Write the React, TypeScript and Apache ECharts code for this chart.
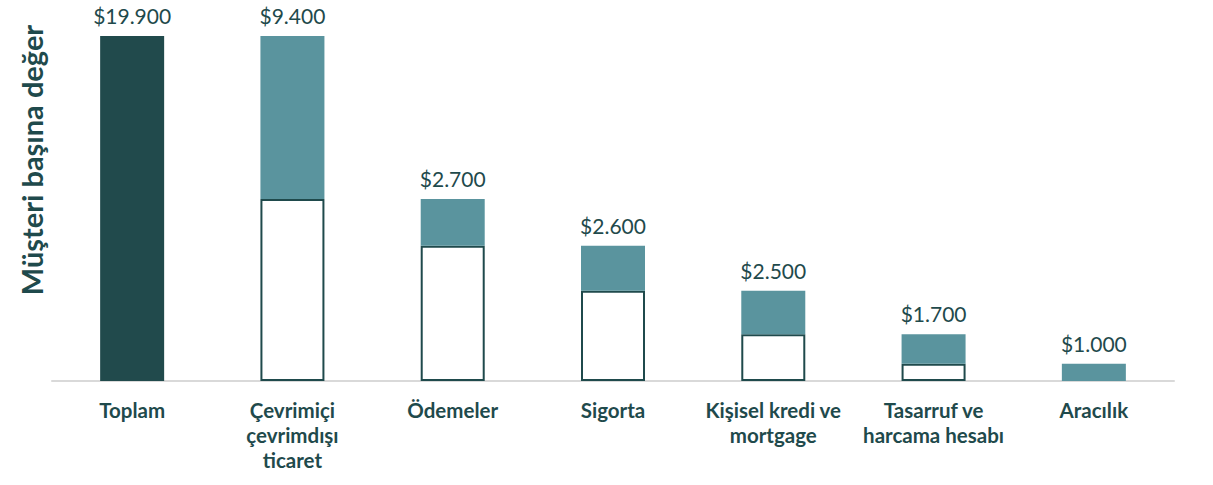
import React, { useEffect, useRef } from "react";
import * as echarts from "echarts";

const categories = [
  "Toplam",
  "Çevrimiçi\nçevrimdışı\nticaret",
  "Ödemeler",
  "Sigorta",
  "Kişisel kredi ve\nmortgage",
  "Tasarruf ve\nharcama hesabı",
  "Aracılık",
];
const values = [19900, 9400, 2700, 2600, 2500, 1700, 1000];
const yAxisTitle = "Müşteri başına değer";

const DARK = "#214a4c";
const TEAL = "#5a949e";
const TEXT = "#1f4a4c";

function fmt(v: number) {
  return "$" + String(v).replace(/\B(?=(\d{3})+(?!\d))/g, ".");
}

export default function App() {
  const ref = useRef<HTMLDivElement>(null);
  useEffect(() => {
    if (!ref.current) return;
    const chart = echarts.init(ref.current, undefined, { renderer: "svg" });
    const total = values[0];
    const bases: (number | string)[] = [];
    let remaining = total;
    values.forEach((v, i) => {
      if (i === 0) {
        bases.push("-");
      } else {
        remaining -= v;
        bases.push(remaining);
      }
    });
    chart.setOption({
      animation: false,
      grid: { left: 52, right: 39, top: 36, bottom: 104 },
      xAxis: {
        type: "category",
        data: categories,
        axisLine: { lineStyle: { color: "#d9d9d9", width: 2 } },
        axisTick: { show: false },
        axisLabel: {
          interval: 0,
          margin: 16,
          color: TEXT,
          fontFamily: "Lato",
          fontWeight: "bold",
          fontSize: 20.5,
          lineHeight: 25,
        },
      },
      yAxis: {
        type: "value",
        min: 0,
        max: 19900,
        show: false,
        splitLine: { show: false },
      },
      graphic: [
        {
          type: "text",
          x: 31,
          y: 160,
          rotation: Math.PI / 2,
          style: {
            text: yAxisTitle,
            fill: TEXT,
            font: "bold 29px Lato",
            textAlign: "center",
            textVerticalAlign: "middle",
          },
        },
      ],
      series: [
        {
          type: "bar",
          stack: "w",
          barWidth: 64,
          data: bases.map((b) =>
            b === "-" || b === 0
              ? "-"
              : { value: b, itemStyle: { color: "#ffffff", borderColor: TEXT, borderWidth: 2 } }
          ),
          silent: true,
        },
        {
          type: "bar",
          stack: "w",
          barWidth: 64,
          data: values.map((v, i) => ({
            value: v,
            itemStyle: { color: i === 0 ? DARK : TEAL },
          })),
          label: {
            show: true,
            position: "top",
            distance: 10,
            color: TEXT,
            fontFamily: "Lato",
            fontSize: 21,
            formatter: (p: any) => fmt(p.value),
          },
        },
      ],
    });
    return () => chart.dispose();
  }, []);
  return (
    <div
      ref={ref}
      style={{ position: "fixed", left: 0, top: 0, width: 1213, height: 485, background: "#fff" }}
    />
  );
}
